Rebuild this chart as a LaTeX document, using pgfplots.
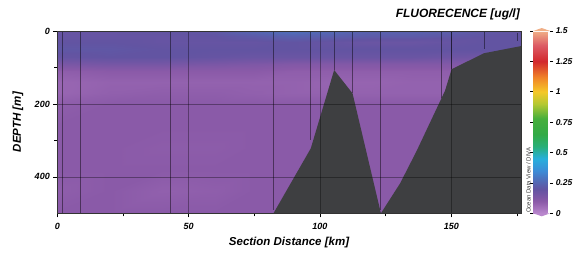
\documentclass[border=0pt]{standalone}
\usepackage{pgfplots}
\pgfplotsset{compat=1.18}
\usepackage{fontspec}
\setmainfont{Liberation Sans}
\definecolor{bathy}{RGB}{62,63,65}
\definecolor{cbtop}{RGB}{240,175,135}
\definecolor{cbbot}{RGB}{185,135,205}
\pgfplotsset{colormap={odv}{
 rgb255(0mm)=(185,135,205); rgb255(7mm)=(152,102,178); rgb255(10mm)=(138,90,168);
 rgb255(15mm)=(118,86,165); rgb255(20mm)=(98,84,162); rgb255(27mm)=(80,108,184);
 rgb255(35mm)=(60,140,215); rgb255(45mm)=(40,175,220); rgb255(55mm)=(40,175,120);
 rgb255(65mm)=(50,170,70); rgb255(78mm)=(70,175,60); rgb255(90mm)=(180,200,50);
 rgb255(100mm)=(245,200,40); rgb255(112mm)=(240,130,40); rgb255(125mm)=(210,40,45);
 rgb255(138mm)=(220,90,100); rgb255(150mm)=(240,175,135)}}
\pgfplotsset{station/.style={black, opacity=0.45, line width=1.1pt, forget plot}}
\begin{document}
\begin{tikzpicture}
\path[use as bounding box] (0,0) rectangle (579pt,257pt);
\begin{axis}[
  name=main,
  at={(57.3pt,43.7pt)}, anchor=south west,
  scale only axis, width=464.4pt, height=182.3pt,
  view={0}{90},
  xmin=0, xmax=176.8, ymin=0, ymax=500, y dir=reverse,
  xtick={0,50,100,150}, ytick={0,200,400}, ztick=\empty,
  minor xtick={25,75,125,175}, minor ytick={100,300},
  xtick pos=left, ytick pos=left,
  tick align=outside, major tick length=4pt, minor tick length=3pt,
  tick style={black, line width=0.5pt},
  grid=major, major grid style={black, opacity=0.35, line width=0.5pt},
  axis on top,
  axis line style={black!80, line width=0.8pt},
  /pgf/number format/assume math mode=true,
  tick label style={font=\bfseries\itshape\fontsize{9}{9}\selectfont},
  xticklabel style={yshift=-2pt},
  xlabel={Section Distance [km]},
  ylabel={DEPTH [m]},
  label style={font=\bfseries\itshape\fontsize{11.5}{12}\selectfont},
  xlabel style={at={(axis description cs:0.499,-0.163)}, anchor=center},
  ylabel style={at={(axis description cs:-0.085,0.5)}, anchor=center},
  colormap name=odv, point meta min=0, point meta max=1.5,
  colorbar,
  colorbar style={
    name=cb,
    at={(parent axis.north east)}, anchor=north west, xshift=3pt,
    scale only axis, width=17pt, height=182.3pt,
    ytick={0,0.25,0.5,0.75,1,1.25,1.5},
    yticklabels={0,0.25,0.5,0.75,1,1.25,1.5},
    yticklabel style={font=\bfseries\itshape\fontsize{8.5}{8.5}\selectfont, xshift=-1pt},
    major tick length=3pt, tick align=outside,
    tick style={black, line width=0.6pt},
    axis line style={draw=none},
  },
]
\addplot3[surf, shader=interp, mesh/rows=15, mesh/cols=12, point meta=z] table[x=x, y=y, z=v] {
x y v
0 0 0.19
20 0 0.19
40 0 0.20
60 0 0.21
75 0 0.25
90 0 0.28
105 0 0.26
120 0 0.24
135 0 0.24
150 0 0.23
165 0 0.21
176.8 0 0.20
0 15 0.19
20 15 0.19
40 15 0.19
60 15 0.20
75 15 0.22
90 15 0.24
105 15 0.23
120 15 0.22
135 15 0.22
150 15 0.21
165 15 0.20
176.8 15 0.20
0 30 0.20
20 30 0.20
40 30 0.19
60 30 0.19
75 30 0.19
90 30 0.20
105 30 0.19
120 30 0.18
135 30 0.18
150 30 0.19
165 30 0.20
176.8 30 0.20
0 50 0.21
20 50 0.21
40 50 0.20
60 50 0.20
75 50 0.20
90 50 0.20
105 50 0.20
120 50 0.20
135 50 0.20
150 50 0.20
165 50 0.20
176.8 50 0.20
0 70 0.19
20 70 0.20
40 70 0.20
60 70 0.19
75 70 0.18
90 70 0.18
105 70 0.18
120 70 0.18
135 70 0.18
150 70 0.17
165 70 0.16
176.8 70 0.16
0 90 0.14
20 90 0.15
40 90 0.15
60 90 0.14
75 90 0.13
90 90 0.12
105 90 0.12
120 90 0.12
135 90 0.12
150 90 0.12
165 90 0.12
176.8 90 0.12
0 110 0.09
20 110 0.10
40 110 0.10
60 110 0.10
75 110 0.10
90 110 0.09
105 110 0.09
120 110 0.09
135 110 0.09
150 110 0.09
165 110 0.09
176.8 110 0.09
0 140 0.07
20 140 0.08
40 140 0.08
60 140 0.08
75 140 0.08
90 140 0.08
105 140 0.075
120 140 0.075
135 140 0.08
150 140 0.08
165 140 0.08
176.8 140 0.08
0 170 0.07
20 170 0.085
40 170 0.09
60 170 0.09
75 170 0.085
90 170 0.08
105 170 0.08
120 170 0.08
135 170 0.08
150 170 0.08
165 170 0.08
176.8 170 0.08
0 200 0.09
20 200 0.10
40 200 0.10
60 200 0.10
75 200 0.10
90 200 0.10
105 200 0.10
120 200 0.10
135 200 0.10
150 200 0.10
165 200 0.10
176.8 200 0.10
0 260 0.10
20 260 0.10
40 260 0.10
60 260 0.10
75 260 0.10
90 260 0.10
105 260 0.10
120 260 0.10
135 260 0.10
150 260 0.10
165 260 0.10
176.8 260 0.10
0 320 0.10
20 320 0.10
40 320 0.095
60 320 0.095
75 320 0.10
90 320 0.10
105 320 0.10
120 320 0.10
135 320 0.10
150 320 0.10
165 320 0.10
176.8 320 0.10
0 380 0.10
20 380 0.10
40 380 0.10
60 380 0.10
75 380 0.10
90 380 0.10
105 380 0.10
120 380 0.10
135 380 0.10
150 380 0.10
165 380 0.10
176.8 380 0.10
0 440 0.09
20 440 0.10
40 440 0.085
60 440 0.09
75 440 0.10
90 440 0.10
105 440 0.10
120 440 0.10
135 440 0.10
150 440 0.10
165 440 0.10
176.8 440 0.10
0 500 0.10
20 500 0.10
40 500 0.10
60 500 0.10
75 500 0.10
90 500 0.10
105 500 0.10
120 500 0.10
135 500 0.10
150 500 0.10
165 500 0.10
176.8 500 0.10
};
% bathymetry
\addplot[fill=bathy, draw=none, forget plot] coordinates {
 (82.3,500) (96.5,322) (105.4,107) (112.4,171) (123.2,500)};
\addplot[fill=bathy, draw=none, forget plot] coordinates {
 (123.2,500) (130.5,418) (136.8,329) (147.6,164) (150.1,105) (162.4,61) (176.8,41) (176.8,500)};
% station casts
\addplot[station] coordinates {(1.9,0) (1.9,500)};
\addplot[station] coordinates {(8.9,0) (8.9,500)};
\addplot[station] coordinates {(43.1,0) (43.1,500)};
\addplot[station] coordinates {(82.3,0) (82.3,490)};
\addplot[station] coordinates {(96.5,0) (96.5,300)};
\addplot[station] coordinates {(105.4,0) (105.4,107)};
\addplot[station] coordinates {(112.4,0) (112.4,170)};
\addplot[station] coordinates {(123.2,0) (123.2,490)};
\addplot[station] coordinates {(146.3,0) (146.3,185)};
\addplot[station] coordinates {(150.1,0) (150.1,105)};
\addplot[station] coordinates {(162.5,0) (162.5,48)};
\addplot[station] coordinates {(175.2,5) (175.2,27)};
\end{axis}
\fill[cbtop] (cb.north west) -- (cb.north east) -- ([yshift=3pt]cb.north) -- cycle;
\fill[cbbot] (cb.south west) -- (cb.south east) -- ([yshift=-3pt]cb.south) -- cycle;
\node[anchor=base east, font=\bfseries\itshape\fontsize{12}{12}\selectfont, inner sep=0pt] at (520pt,239.5pt) {FLUORECENCE [ug/l]};
\node[rotate=90, anchor=base west, font=\fontsize{6}{6}\selectfont, inner sep=0pt, black!80] at (530.5pt,44pt) {Ocean Data View / DIVA};
\end{tikzpicture}
\end{document}
